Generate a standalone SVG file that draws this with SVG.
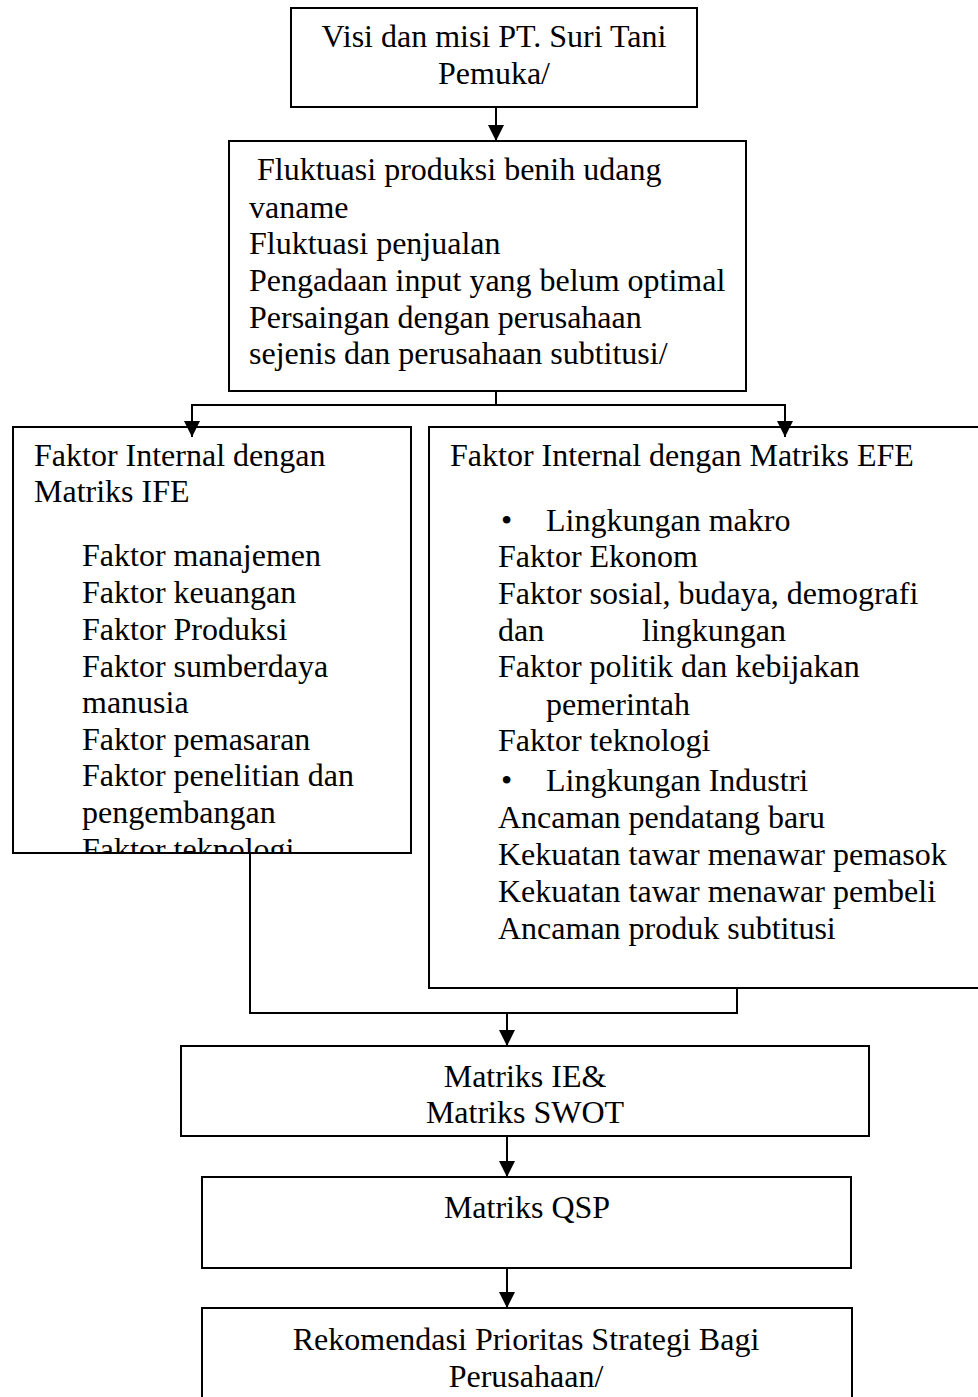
<svg xmlns="http://www.w3.org/2000/svg" width="978" height="1397" viewBox="0 0 978 1397">
<style>
.box{fill:#fff;stroke:#000;stroke-width:2}
.t{font-family:"Liberation Serif","Times New Roman",serif;font-size:32px;fill:#000}
.c{text-anchor:middle}
.ln{fill:none;stroke:#000;stroke-width:2}
</style>
<defs>
<marker id="arr" markerUnits="userSpaceOnUse" markerWidth="16" markerHeight="16" refX="16" refY="8" orient="auto" viewBox="0 0 16 16">
<path d="M0,0 L16,8 L0,16 z" fill="#000"/>
</marker>
<clipPath id="clipL"><rect x="14" y="428" width="396" height="424"/></clipPath>
</defs>
<rect width="978" height="1397" fill="#fff"/>

<g id="visi">
<rect class="box" x="291" y="8" width="406" height="99"/>
<text class="t c" x="494" y="47">Visi dan misi PT. Suri Tani</text>
<text class="t c" x="494" y="84">Pemuka/</text>
</g>

<g id="masalah">
<rect class="box" x="229" y="141" width="517" height="250"/>
<text class="t" x="257" y="180">Fluktuasi produksi benih udang</text>
<text class="t" x="249" y="218">vaname</text>
<text class="t" x="249" y="254">Fluktuasi penjualan</text>
<text class="t" x="249" y="291">Pengadaan input yang belum optimal</text>
<text class="t" x="249" y="328">Persaingan dengan perusahaan</text>
<text class="t" x="249" y="364">sejenis dan perusahaan subtitusi/</text>
</g>

<g id="ife">
<rect class="box" x="13" y="427" width="398" height="426"/>
<g clip-path="url(#clipL)">
<text class="t" x="34" y="466">Faktor Internal dengan</text>
<text class="t" x="34" y="502">Matriks IFE</text>
<text class="t" x="82" y="566">Faktor manajemen</text>
<text class="t" x="82" y="603">Faktor keuangan</text>
<text class="t" x="82" y="640">Faktor Produksi</text>
<text class="t" x="82" y="677">Faktor sumberdaya</text>
<text class="t" x="82" y="713">manusia</text>
<text class="t" x="82" y="750">Faktor pemasaran</text>
<text class="t" x="82" y="786">Faktor penelitian dan</text>
<text class="t" x="82" y="823">pengembangan</text>
<text class="t" x="82" y="860">Faktor teknologi</text>
</g>
</g>

<g id="efe">
<rect class="box" x="429" y="427" width="570" height="561"/>
<text class="t" x="450" y="466">Faktor Internal dengan Matriks EFE</text>
<text class="t" x="501" y="531">•</text>
<text class="t" x="546" y="531">Lingkungan makro</text>
<text class="t" x="498" y="567">Faktor Ekonom</text>
<text class="t" x="498" y="604">Faktor sosial, budaya, demografi</text>
<text class="t" x="498" y="641">dan</text>
<text class="t" x="642" y="641">lingkungan</text>
<text class="t" x="498" y="677">Faktor politik dan kebijakan</text>
<text class="t" x="546" y="715">pemerintah</text>
<text class="t" x="498" y="751">Faktor teknologi</text>
<text class="t" x="501" y="791">•</text>
<text class="t" x="546" y="791">Lingkungan Industri</text>
<text class="t" x="498" y="828">Ancaman pendatang baru</text>
<text class="t" x="498" y="865">Kekuatan tawar menawar pemasok</text>
<text class="t" x="498" y="902">Kekuatan tawar menawar pembeli</text>
<text class="t" x="498" y="939">Ancaman produk subtitusi</text>
</g>

<g id="ieswot">
<rect class="box" x="181" y="1046" width="688" height="90"/>
<text class="t c" x="525" y="1087">Matriks IE&amp;</text>
<text class="t c" x="525" y="1123">Matriks SWOT</text>
</g>

<g id="qsp">
<rect class="box" x="202" y="1177" width="649" height="91"/>
<text class="t c" x="527" y="1218">Matriks QSP</text>
</g>

<g id="rekomendasi">
<rect class="box" x="202" y="1308" width="650" height="110"/>
<text class="t c" x="526" y="1350">Rekomendasi Prioritas Strategi Bagi</text>
<text class="t c" x="526" y="1387">Perusahaan/</text>
</g>

<g id="connectors">
<line class="ln" x1="496" y1="107" x2="496" y2="141" marker-end="url(#arr)"/>
<polyline class="ln" points="496,391 496,405"/>
<polyline class="ln" points="192,437 192,405 785,405 785,437"/>
<line class="ln" x1="192" y1="405" x2="192" y2="437" marker-end="url(#arr)"/>
<line class="ln" x1="785" y1="405" x2="785" y2="437" marker-end="url(#arr)"/>
<polyline class="ln" points="250,853 250,1013 737,1013 737,988"/>
<line class="ln" x1="507" y1="1013" x2="507" y2="1046" marker-end="url(#arr)"/>
<line class="ln" x1="507" y1="1136" x2="507" y2="1177" marker-end="url(#arr)"/>
<line class="ln" x1="507" y1="1268" x2="507" y2="1308" marker-end="url(#arr)"/>
</g>
</svg>
